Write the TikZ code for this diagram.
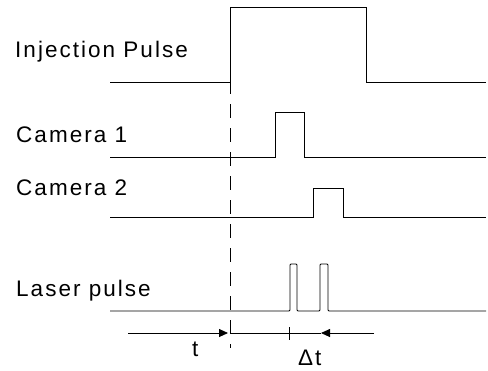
\documentclass[tikz,border=0pt]{standalone}
\usepackage{fontspec}
\setmainfont{Liberation Sans}[LetterSpace=9]
\usetikzlibrary{arrows.meta}
\begin{document}
\begin{tikzpicture}[x=1bp,y=-1bp,
  sig/.style={line width=0.9bp, line join=miter},
  lbl/.style={anchor=base west, inner sep=0pt, font=\fontsize{22.5bp}{24bp}\selectfont},
  dim/.style={line width=0.9bp},
  arr/.style={dim, -{Triangle[length=9bp,width=8bp]}},
  vdash/.style={line width=0.9bp, dash pattern=on 14bp off 10bp}]
\useasboundingbox (0,0) rectangle (488,370);
% labels
\node[lbl] (linj) at (15,57) {Injection Pulse};
\node[lbl] (lc1) at (16,142) {Camera 1};
\node[lbl] (lc2) at (16,195) {Camera 2};
\node[lbl] (llas) at (16,296) {Laser pulse};
% signals
\draw[sig] (110,82) -- (230,82) -- (230,7) -- (366,7) -- (366,82) -- (486,82);
\draw[sig] (110,157) -- (275,157) -- (275,112) -- (304,112) -- (304,157) -- (486,157);
\draw[sig] (110,217) -- (313,217) -- (313,188) -- (343,188) -- (343,217) -- (486,217);
\draw[sig, rounded corners=1bp] (110,311) -- (290,311) -- (290,264) -- (297,264) -- (297,311)
  -- (320,311) -- (320,264) -- (328,264) -- (328,311) -- (486,311);
% dashed trigger line
\coordinate (dtop) at (230,8);
\coordinate (dbot) at (230,348);
\draw[vdash] (dtop) -- (dbot);
% time markers
\coordinate (ta) at (128,333);
\coordinate (tb) at (228,333);
\coordinate (tc) at (230,333);
\coordinate (tk) at (289,333);
\coordinate (td) at (321,333);
\coordinate (te) at (374,333);
\draw[arr] (ta) -- (tb);
\draw[dim] (tc) -- (td);
\draw[dim] (289,327) -- (289,340);
\draw[arr] (te) -- (td);
\node[lbl] (tlab) at (192,356) {t};
\node[lbl] (dtlab) at (298,365) {Δt};
\end{tikzpicture}
\end{document}
